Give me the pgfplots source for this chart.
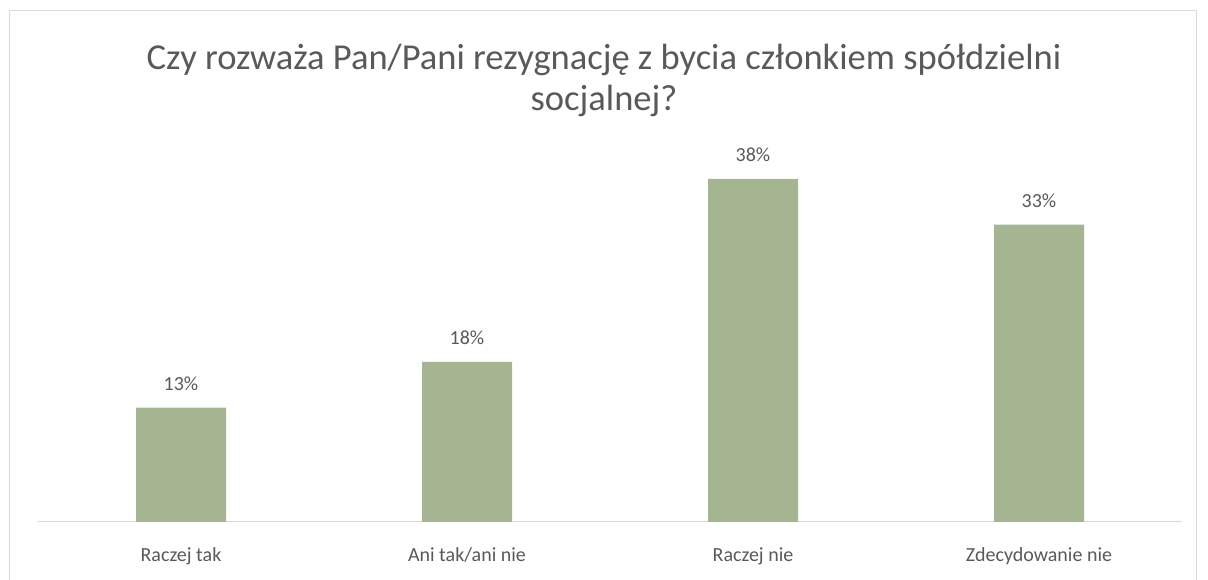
\documentclass[border=0pt]{standalone}
\usepackage{fontspec}
\setmainfont{Carlito}
\usepackage{pgfplots}
\pgfplotsset{compat=1.18}
\definecolor{barg}{HTML}{A5B592}
\definecolor{txt}{HTML}{595959}
\definecolor{frame}{HTML}{D9D9D9}
\begin{document}
\begin{tikzpicture}[x=0.75pt,y=0.75pt]
\path[use as bounding box] (0,0) rectangle (1208,580);
\begin{scope}
\clip (0,0) rectangle (1208,580);
\draw[frame, line width=0.75pt] (9,-20) rectangle (1196,569);
\end{scope}
\node[txt, font=\fontsize{27.4}{30.75}\selectfont, align=center] at (604,500)
  {Czy rozważa Pan/Pani rezygnację z bycia członkiem spółdzielni\\socjalnej?};
\begin{axis}[
  at={(28.5pt,43.5pt)}, anchor=south west,
  scale only axis, width=858pt, height=274.5pt,
  xmin=-0.5, xmax=3.5, ymin=0, ymax=40,
  axis y line=none, axis x line*=bottom,
  x axis line style={frame, line width=0.75pt, -},
  xtick={0,1,2,3},
  xticklabels={Raczej tak, Ani tak/ani nie, Raczej nie, Zdecydowanie nie},
  major tick length=0pt,
  xticklabel style={txt, font=\fontsize{15}{18}\selectfont, anchor=base, yshift=-30pt},
  ytick=\empty,
  ybar, bar width=67.5pt,
  point meta=explicit symbolic,
  nodes near coords,
  every node near coord/.append style={txt, font=\fontsize{15}{18}\selectfont, anchor=base, yshift=12.75pt},
]
\addplot[fill=barg, draw=none] coordinates {(0,12.5)[13\%] (1,17.5)[18\%] (2,37.5)[38\%] (3,32.5)[33\%]};
\end{axis}
\end{tikzpicture}
\end{document}
